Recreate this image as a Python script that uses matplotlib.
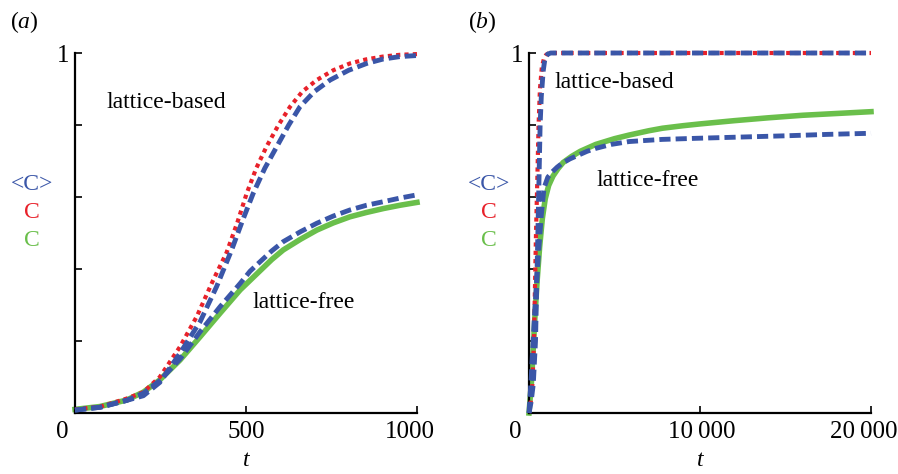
import matplotlib
matplotlib.use("Agg")
import matplotlib.pyplot as plt
import matplotlib.transforms as mtransforms

# ---- data panel (a) ----
ta_lb_red = [0, 75, 151, 200, 248, 307, 356, 404, 443, 475, 502, 530, 560, 595, 629, 665, 707, 755, 804, 850, 900, 950, 1000]
ca_lb_red = [0.010, 0.018, 0.040, 0.058, 0.100, 0.184, 0.268, 0.369, 0.445, 0.530, 0.610, 0.680, 0.740, 0.800, 0.851, 0.893, 0.925, 0.952, 0.971, 0.982, 0.990, 0.995, 0.997]
ta_lb_blue = [0, 75, 151, 200, 248, 307, 366, 414, 458, 490, 521, 555, 590, 625, 658, 700, 746, 800, 853, 900, 950, 1000]
ca_lb_blue = [0.008, 0.016, 0.035, 0.048, 0.085, 0.166, 0.254, 0.351, 0.453, 0.535, 0.610, 0.680, 0.740, 0.800, 0.851, 0.893, 0.925, 0.952, 0.971, 0.983, 0.990, 0.993]
ta_lf_green = [0, 73, 151, 200, 248, 307, 366, 424, 483, 541, 575, 609, 660, 707, 755, 804, 852, 902, 950, 1000]
ca_lf_green = [0.010, 0.018, 0.036, 0.058, 0.092, 0.147, 0.212, 0.277, 0.342, 0.395, 0.426, 0.453, 0.483, 0.508, 0.528, 0.545, 0.557, 0.568, 0.577, 0.585]
ta_lf_blue = [0, 73, 151, 200, 248, 307, 366, 424, 483, 512, 541, 575, 609, 660, 707, 755, 804, 852, 902, 950, 1000]
ca_lf_blue = [0.008, 0.016, 0.035, 0.055, 0.090, 0.150, 0.226, 0.295, 0.360, 0.394, 0.420, 0.450, 0.476, 0.504, 0.527, 0.547, 0.564, 0.577, 0.587, 0.597, 0.606]

# ---- data panel (b) ----
tb_lb_red = [0, 100, 200, 290, 350, 410, 487, 560, 640, 750, 877, 1000, 1170, 5000, 10000, 15000, 20000]
cb_lb_red = [0.0, 0.03, 0.08, 0.20, 0.35, 0.50, 0.65, 0.80, 0.90, 0.96, 0.985, 0.995, 1.0, 1.0, 1.0, 1.0, 1.0]
tb_lb_blue = [0, 120, 250, 380, 450, 520, 585, 650, 720, 830, 935, 1100, 1270, 5000, 10000, 15000, 20000]
cb_lb_blue = [0.0, 0.03, 0.08, 0.20, 0.35, 0.50, 0.65, 0.80, 0.88, 0.95, 0.985, 0.997, 1.0, 1.0, 1.0, 1.0, 1.0]
tb_lf_green = [0, 150, 250, 350, 480, 620, 780, 950, 1150, 1400, 1700, 2000, 2500, 3000, 3900, 5000, 5850, 7000, 7800, 9000, 10000, 12000, 14000, 16000, 18000, 20000]
cb_lf_green = [0.0, 0.09, 0.18, 0.27, 0.37, 0.46, 0.54, 0.595, 0.632, 0.658, 0.679, 0.696, 0.713, 0.727, 0.746, 0.762, 0.772, 0.784, 0.791, 0.798, 0.803, 0.812, 0.820, 0.827, 0.832, 0.837]
tb_lf_blue = [0, 120, 220, 320, 450, 580, 720, 877, 1100, 1364, 1650, 1950, 2400, 2924, 3400, 3900, 4800, 5850, 6800, 7800, 9750, 12000, 15000, 17500, 20000]
cb_lf_blue = [0.0, 0.09, 0.18, 0.27, 0.37, 0.46, 0.55, 0.625, 0.655, 0.670, 0.683, 0.694, 0.706, 0.717, 0.727, 0.735, 0.746, 0.754, 0.757, 0.760, 0.763, 0.766, 0.770, 0.774, 0.777]

# ---- tick labels ----
xticks_a = [0, 500, 1000]
xlabels_a = ["0", "500", "1000"]
xticks_b = [0, 10000, 20000]
xlabels_b = ["0", "10\u2009000", "20\u2009000"]

BLUE = "#3a56a8"
RED = "#e8212a"
GREEN = "#6abf4b"
SERIF = ["Liberation Serif", "DejaVu Serif"]
plt.rcParams["font.family"] = SERIF
plt.rcParams["mathtext.fontset"] = "custom"
plt.rcParams["mathtext.it"] = "Liberation Serif:italic"
plt.rcParams["mathtext.rm"] = "Liberation Serif"

FS = 17
TFS = 18

fig = plt.figure(figsize=(8.98, 4.74), dpi=100)
W, H = 898, 474
axa = fig.add_axes([75 / W, 1 - 413 / H, (417 - 75) / W, (413 - 53) / H])
axb = fig.add_axes([529 / W, 1 - 413 / H, (871 - 529) / W, (413 - 53) / H])


def style(ax, xmax, xticks, xlabels, shifts):
    ax.set_xlim(0, xmax)
    ax.set_ylim(0, 1)
    for s in ["top", "right"]:
        ax.spines[s].set_visible(False)
    for s in ["left", "bottom"]:
        ax.spines[s].set_linewidth(1.6)
        ax.spines[s].set_color("black")
    ax.set_yticks([0, 0.2, 0.4, 0.6, 0.8, 1.0])
    ax.set_yticklabels(["", "", "", "", "", "1"])
    ax.set_xticks(xticks)
    ax.set_xticklabels(xlabels)
    ax.tick_params(direction="in", length=5, width=1.2, labelsize=TFS, pad=6)
    ax.tick_params(axis="y", pad=4)
    ax.set_xlabel("t", fontsize=FS, fontstyle="italic", labelpad=5)
    ax.patch.set_alpha(0)
    for lab, dx in zip(ax.get_xticklabels(), shifts):
        off = mtransforms.ScaledTranslation(dx / 100.0, 0, fig.dpi_scale_trans)
        lab.set_transform(lab.get_transform() + off)


dash = dict(color=BLUE, lw=3.5, linestyle=(0, (2.3, 1.05)), dash_capstyle="butt", zorder=4)
dot = dict(color=RED, lw=3.0, linestyle=(0, (1.0, 1.0)), dash_capstyle="butt", zorder=3)
sol = dict(color=GREEN, lw=4.0, linestyle="-", zorder=2)

axa.plot(ta_lb_red, ca_lb_red, **dot)
axa.plot(ta_lf_green, ca_lf_green, **sol)
axa.plot(ta_lb_blue, ca_lb_blue, **dash)
axa.plot(ta_lf_blue, ca_lf_blue, **dash)
style(axa, 1000, xticks_a, xlabels_a, [-13, 0, -7])

axb.plot(tb_lb_red, cb_lb_red, **dot)
axb.plot(tb_lf_green, cb_lf_green, **sol)
axb.plot(tb_lb_blue, cb_lb_blue, **dash)
axb.plot(tb_lf_blue, cb_lf_blue, **dash)
style(axb, 20000, xticks_b, xlabels_b, [-14, 2, -7])

for ax in (axa, axb):
    for ln in ax.get_lines():
        ln.set_clip_on(False)

# annotations
fig.text(106 / W, 1 - 103 / H, "lattice-based", fontsize=FS, va="center", ha="left")
fig.text(252 / W, 1 - 303 / H, "lattice-free", fontsize=FS, va="center", ha="left")
fig.text(554 / W, 1 - 83 / H, "lattice-based", fontsize=FS, va="center", ha="left")
fig.text(596 / W, 1 - 180 / H, "lattice-free", fontsize=FS, va="center", ha="left")

# panel labels
fig.text(10 / W, 1 - 22 / H, r"($\mathit{a}$)", fontsize=FS, va="center", ha="left")
fig.text(468 / W, 1 - 22 / H, r"($\mathit{b}$)", fontsize=FS, va="center", ha="left")

# y-axis labels (coloured)
for xc in (32, 489):
    fig.text(xc / W, 1 - 185 / H, "<C>", color=BLUE, fontsize=FS, va="center", ha="center")
    fig.text(xc / W, 1 - 212 / H, "C", color=RED, fontsize=FS, va="center", ha="center")
    fig.text(xc / W, 1 - 240 / H, "C", color=GREEN, fontsize=FS, va="center", ha="center")

fig.savefig("out.png", dpi=100)
